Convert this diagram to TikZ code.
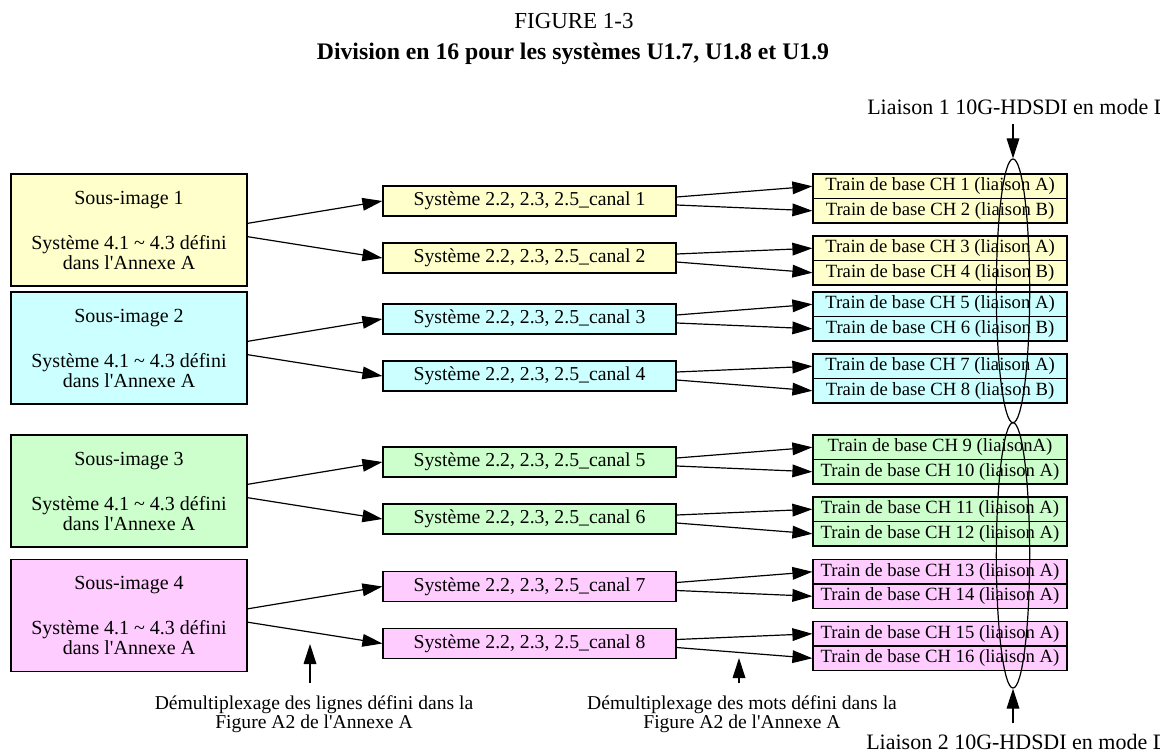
\documentclass[tikz,border=0pt]{standalone}
\usepackage{fontspec}
\setmainfont{Liberation Serif}
\usetikzlibrary{arrows.meta,shapes.geometric}

\definecolor{subyellow}{HTML}{FFFFCC}
\definecolor{subcyan}{HTML}{CCFFFF}
\definecolor{subgreen}{HTML}{CCFFCC}
\definecolor{subpink}{HTML}{FFCCFF}

\begin{document}
\begin{tikzpicture}[x=0.75pt, y=-0.75pt,
        subimg/.style={draw, line width=0.9pt, minimum width=177pt, minimum height=84pt, inner sep=0pt, align=center, font=\fontsize{15}{15}\selectfont},
        canal/.style={draw, line width=0.9pt, minimum width=219.75pt, minimum height=22.5pt, inner sep=0pt, font=\fontsize{14.8}{15}\selectfont},
        train/.style={draw, line width=0.9pt, minimum width=190.5pt, minimum height=18.4pt, inner sep=0pt, font=\fontsize{14}{14}\selectfont},
        link/.style={draw, ellipse, line width=0.9pt, minimum width=25pt, inner sep=0pt},
        ptr/.style={-{Triangle[length=15pt,width=9.5pt]}, line width=0.9pt},
        note/.style={align=center, inner sep=0pt, font=\fontsize{14.7}{14.25}\selectfont}]
            \useasboundingbox (0,0) rectangle (1160,754);
            \clip (0,0) rectangle (1160,754);

            \node[anchor=base, font=\fontsize{17.2}{17.2}\selectfont] (ttl) at (574,28) {FIGURE 1-3};
            \node[anchor=base, font=\fontsize{17.8}{17.8}\selectfont\bfseries] (sttl) at (573,59) {Division en 16 pour les systèmes U1.7, U1.8 et U1.9};

            % sous-images
            \node[subimg, fill=subyellow] (sub1) at (129,230) {Sous-image 1\\[18.75pt]Système 4.1 \textasciitilde{} 4.3 défini\\dans l\textquotesingle Annexe A};
            \node[subimg, fill=subcyan] (sub2) at (129,348) {Sous-image 2\\[18.75pt]Système 4.1 \textasciitilde{} 4.3 défini\\dans l\textquotesingle Annexe A};
            \node[subimg, fill=subgreen] (sub3) at (129,491) {Sous-image 3\\[18.75pt]Système 4.1 \textasciitilde{} 4.3 défini\\dans l\textquotesingle Annexe A};
            \node[subimg, fill=subpink] (sub4) at (129,615.5) {Sous-image 4\\[18.75pt]Système 4.1 \textasciitilde{} 4.3 défini\\dans l\textquotesingle Annexe A};

            % canaux
            \node[canal, fill=subyellow] (can1) at (529.5,201) {Système 2.2, 2.3, 2.5\_canal 1};
            \node[canal, fill=subyellow] (can2) at (529.5,258) {Système 2.2, 2.3, 2.5\_canal 2};
            \node[canal, fill=subcyan] (can3) at (529.5,319) {Système 2.2, 2.3, 2.5\_canal 3};
            \node[canal, fill=subcyan] (can4) at (529.5,376) {Système 2.2, 2.3, 2.5\_canal 4};
            \node[canal, fill=subgreen] (can5) at (529.5,462) {Système 2.2, 2.3, 2.5\_canal 5};
            \node[canal, fill=subgreen] (can6) at (529.5,519) {Système 2.2, 2.3, 2.5\_canal 6};
            \node[canal, fill=subpink] (can7) at (529.5,586.5) {Système 2.2, 2.3, 2.5\_canal 7};
            \node[canal, fill=subpink] (can8) at (529.5,643.5) {Système 2.2, 2.3, 2.5\_canal 8};

            % trains de base
            \node[train, fill=subyellow] (ch1) at (940,186.25) {Train de base CH 1 (liaison A)};
            \node[train, fill=subyellow] (ch2) at (940,210.75) {Train de base CH 2 (liaison B)};
            \node[train, fill=subyellow] (ch3) at (940,248.25) {Train de base CH 3 (liaison A)};
            \node[train, fill=subyellow] (ch4) at (940,272.75) {Train de base CH 4 (liaison B)};
            \node[train, fill=subcyan] (ch5) at (940,304.25) {Train de base CH 5 (liaison A)};
            \node[train, fill=subcyan] (ch6) at (940,328.75) {Train de base CH 6 (liaison B)};
            \node[train, fill=subcyan] (ch7) at (940,366.25) {Train de base CH 7 (liaison A)};
            \node[train, fill=subcyan] (ch8) at (940,390.75) {Train de base CH 8 (liaison B)};
            \node[train, fill=subgreen] (ch9) at (940,447.25) {Train de base CH 9 (liaisonA)};
            \node[train, fill=subgreen] (ch10) at (940,471.75) {Train de base CH 10 (liaison A)};
            \node[train, fill=subgreen] (ch11) at (940,509.25) {Train de base CH 11 (liaison A)};
            \node[train, fill=subgreen] (ch12) at (940,533.75) {Train de base CH 12 (liaison A)};
            \node[train, fill=subpink] (ch13) at (940,571.75) {Train de base CH 13 (liaison A)};
            \node[train, fill=subpink] (ch14) at (940,596.25) {Train de base CH 14 (liaison A)};
            \node[train, fill=subpink] (ch15) at (940,633.75) {Train de base CH 15 (liaison A)};
            \node[train, fill=subpink] (ch16) at (940,658.25) {Train de base CH 16 (liaison A)};

            \draw[ptr] ([yshift=5pt]sub1.east) -- (can1.west);
            \draw[ptr] ([yshift=-5pt]sub1.east) -- (can2.west);
            \draw[ptr] ([yshift=5pt]sub2.east) -- (can3.west);
            \draw[ptr] ([yshift=-5pt]sub2.east) -- (can4.west);
            \draw[ptr] ([yshift=5pt]sub3.east) -- (can5.west);
            \draw[ptr] ([yshift=-5pt]sub3.east) -- (can6.west);
            \draw[ptr] ([yshift=5pt]sub4.east) -- (can7.west);
            \draw[ptr] ([yshift=-5pt]sub4.east) -- (can8.west);

            \draw[ptr] ([yshift=3pt]can1.east) -- (ch1.west);
            \draw[ptr] ([yshift=-3pt]can1.east) -- (ch2.west);
            \draw[ptr] ([yshift=3pt]can2.east) -- (ch3.west);
            \draw[ptr] ([yshift=-3pt]can2.east) -- (ch4.west);
            \draw[ptr] ([yshift=3pt]can3.east) -- (ch5.west);
            \draw[ptr] ([yshift=-3pt]can3.east) -- (ch6.west);
            \draw[ptr] ([yshift=3pt]can4.east) -- (ch7.west);
            \draw[ptr] ([yshift=-3pt]can4.east) -- (ch8.west);
            \draw[ptr] ([yshift=3pt]can5.east) -- (ch9.west);
            \draw[ptr] ([yshift=-3pt]can5.east) -- (ch10.west);
            \draw[ptr] ([yshift=3pt]can6.east) -- (ch11.west);
            \draw[ptr] ([yshift=-3pt]can6.east) -- (ch12.west);
            \draw[ptr] ([yshift=3pt]can7.east) -- (ch13.west);
            \draw[ptr] ([yshift=-3pt]can7.east) -- (ch14.west);
            \draw[ptr] ([yshift=3pt]can8.east) -- (ch15.west);
            \draw[ptr] ([yshift=-3pt]can8.east) -- (ch16.west);

            % liaisons 10G-HDSDI
            \node[link, minimum height=197.8pt] (link1) at (1013,290.85) {};
            \node[link, minimum height=199pt] (link2) at (1013,555.35) {};
            \node[anchor=base west, inner sep=0pt, font=\fontsize{16.5}{16.5}\selectfont] (lab1) at (867,114) {Liaison 1 10G-HDSDI en mode D};
            \node[anchor=base west, inner sep=0pt, font=\fontsize{16.5}{16.5}\selectfont] (lab2) at (866,749) {Liaison 2 10G-HDSDI en mode D};
            \coordinate (in1) at (1013,124);
            \coordinate (in2) at (1013,723);
            \draw[ptr] (in1) -- (link1.north);
            \draw[ptr] (in2) -- (link2.south);

            % demultiplexage
            \node[note, anchor=north] (dml) at (314,695) {Démultiplexage des lignes défini dans la\\Figure A2 de l\textquotesingle Annexe A};
            \node[note, anchor=north] (dmm) at (742,695) {Démultiplexage des mots défini dans la\\Figure A2 de l\textquotesingle Annexe A};
            \coordinate (p1) at (310,683);
            \coordinate (q1) at (310,644);
            \coordinate (p2) at (739,683);
            \coordinate (q2) at (739,658);
            \draw[ptr] (p1) -- (q1);
            \draw[ptr] (p2) -- (q2);
        \end{tikzpicture}
\end{document}
